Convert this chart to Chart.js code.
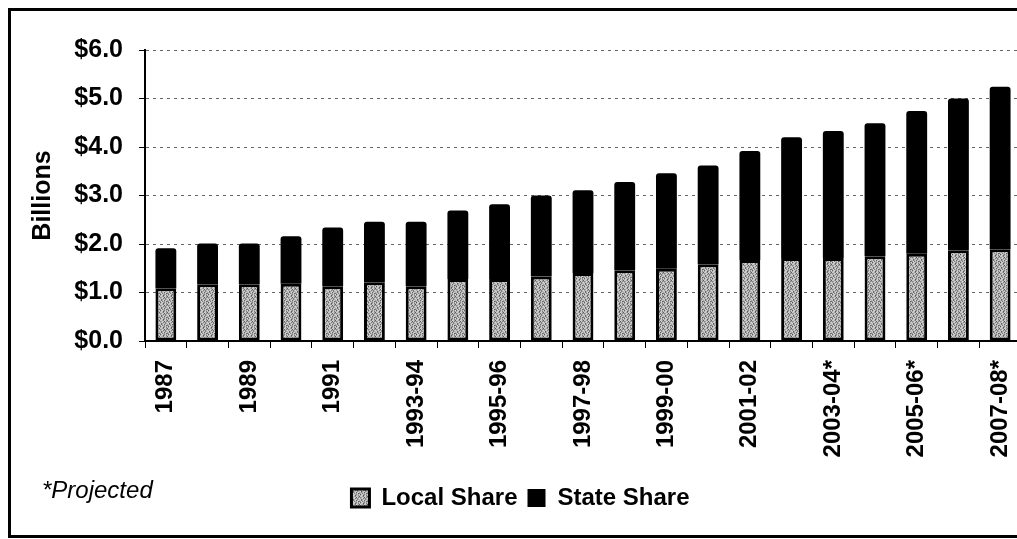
<!DOCTYPE html>
<html>
<head>
<meta charset="utf-8">
<script src="https://cdn.jsdelivr.net/npm/chart.js@4/dist/chart.umd.min.js"></script>
<style>
  html, body { margin: 0; padding: 0; background: #fff; overflow: hidden; }
  #frame { position: absolute; left: 8px; top: 8px; width: 1100px; height: 530px; box-sizing: border-box; border: 3px solid #000; }
  #wrap { position: absolute; left: 0; top: 0; width: 1050px; height: 539px; }
</style>
</head>
<body>
<div id="frame"></div>
<div id="wrap"><canvas id="fundChart" width="1050" height="539"></canvas></div>
<script>
const years = ['1987', '1988', '1989', '1990', '1991', '1992', '1993-94', '1994-95', '1995-96', '1996-97',
  '1997-98', '1998-99', '1999-00', '2000-01', '2001-02', '2002-03', '2003-04*', '2004-05*', '2005-06*',
  '2006-07*', '2007-08*'];
const localShare = [1.09, 1.17, 1.17, 1.18, 1.13, 1.21, 1.13, 1.28, 1.28, 1.33, 1.40, 1.46, 1.49, 1.58,
  1.67, 1.71, 1.71, 1.75, 1.80, 1.87, 1.89];
const stateShare = [0.82, 0.84, 0.84, 0.98, 1.21, 1.25, 1.33, 1.41, 1.54, 1.67, 1.71, 1.82, 1.97, 2.04,
  2.25, 2.49, 2.62, 2.74, 2.94, 3.13, 3.35];
const yTicks = [0, 1, 2, 3, 4, 5, 6];

const FONT = '"Liberation Sans", Arial, sans-serif';

// speckled grey fill for the local share
function speckle() {
  const rows = [
    'acbdacbe',
    'dbaceadb',
    'bcadbdca',
    'aebcadbc',
    'cdbaecab',
    'badcbaed',
    'ecabdcba',
    'bacebadc'
  ];
  const shades = { a: '#d4d4d4', b: '#a6a6a6', c: '#bdbdbd', d: '#7c7c7c', e: '#5a5a5a' };
  const c = document.createElement('canvas');
  c.width = 8; c.height = 8;
  const g = c.getContext('2d');
  rows.forEach((r, y) => {
    for (let x = 0; x < r.length; x++) {
      g.fillStyle = shades[r[x]];
      g.fillRect(x, y, 1, 1);
    }
  });
  return g.createPattern(c, 'repeat');
}

const ctx = document.getElementById('fundChart').getContext('2d');
const localFill = speckle();

const projectedNote = {
  id: 'projectedNote',
  afterDraw(chart) {
    const c = chart.ctx;
    c.save();
    c.font = 'italic 24px ' + FONT;
    c.fillStyle = '#000';
    c.textBaseline = 'middle';
    c.textAlign = 'left';
    c.fillText('*Projected', 42, 491);
    c.restore();
  }
};

const chart = new Chart(ctx, {
  type: 'bar',
  data: {
    labels: years,
    datasets: [{
      label: 'Local Share',
      data: localShare,
      backgroundColor: localFill,
      borderColor: '#000',
      borderWidth: 3,
      borderSkipped: false,
      barPercentage: 0.5,
      categoryPercentage: 1.0
    }, {
      label: 'State Share',
      data: stateShare,
      backgroundColor: '#000',
      borderColor: '#000',
      borderWidth: 0,
      borderRadius: { topLeft: 3, topRight: 3 },
      barPercentage: 0.5,
      categoryPercentage: 1.0
    }]
  },
  options: {
    responsive: false,
    animation: false,
    layout: { padding: { left: 20, right: 29, top: 50, bottom: 19 } },
    plugins: {
      legend: {
        position: 'bottom',
        labels: {
          color: '#000',
          font: { family: FONT, size: 24, weight: 'bold' },
          boxWidth: 18,
          boxHeight: 18,
          padding: 10
        }
      },
      tooltip: { enabled: false }
    },
    scales: {
      x: {
        stacked: true,
        afterFit: (s) => { s.height = 135; },
        border: { color: '#000', width: 2 },
        grid: { drawOnChartArea: false, drawTicks: true, tickLength: 7, color: '#000', offset: true },
        ticks: {
          autoSkip: false,
          minRotation: 90,
          maxRotation: 90,
          padding: 12,
          color: '#000',
          font: { family: FONT, size: 24, weight: 'bold' },
          callback: function (v, i) { return i % 2 === 0 ? years[i] : ''; }
        }
      },
      y: {
        stacked: true,
        min: yTicks[0],
        max: yTicks[yTicks.length - 1],
        afterFit: (s) => { s.width = 125; },
        border: { color: '#000', width: 2, dash: [3, 4] },
        grid: {
          color: '#666',
          tickColor: '#000',
          tickLength: 6
        },
        ticks: {
          stepSize: 1,
          padding: 16,
          color: '#000',
          font: { family: FONT, size: 25, weight: 'bold' },
          callback: (v) => '$' + Number(v).toFixed(1)
        },
        title: {
          display: true,
          text: 'Billions',
          color: '#000',
          padding: { top: 8, bottom: 0 },
          font: { family: FONT, size: 25, weight: 'bold' }
        }
      }
    }
  },
  plugins: [projectedNote]
});
</script>
</body>
</html>
